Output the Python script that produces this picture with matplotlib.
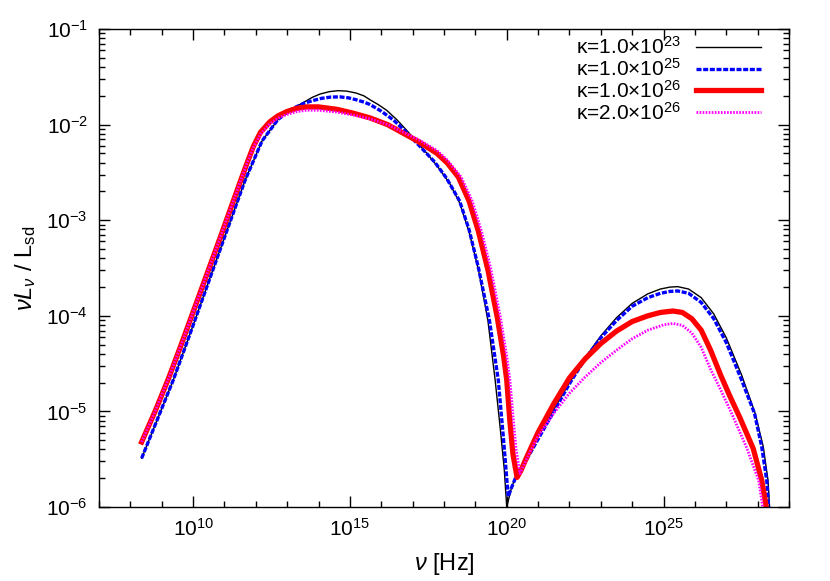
import numpy as np
import matplotlib
matplotlib.use("Agg")
import matplotlib.pyplot as plt
from matplotlib.ticker import FixedLocator, FuncFormatter, LogLocator, NullFormatter

plt.rcParams['font.family'] = ['Liberation Sans', 'DejaVu Sans']
plt.rcParams['mathtext.fontset'] = 'custom'
plt.rcParams['mathtext.rm'] = 'Liberation Sans'
plt.rcParams['mathtext.it'] = 'Liberation Sans:italic'
plt.rcParams['axes.unicode_minus'] = False

# log10(nu) and log10(nu L_nu / L_sd)
k23_lognu = [8.36, 9.37, 10, 11, 11.66, 12.2, 12.7, 13.0, 13.19, 13.51, 13.8, 14.05, 14.35,
             14.63, 14.9, 15.2, 15.45, 15.64, 15.9, 16.17, 16.5, 16.81, 17.1, 17.45, 17.8,
             18.19, 18.5, 18.8, 19.1, 19.4, 19.63, 19.8, 19.92, 20.0, 20.15, 20.3, 20.65,
             21, 21.5, 22, 22.5, 23, 23.5, 24, 24.5, 24.9, 25.2, 25.45, 25.8, 26.2, 26.6,
             27.0, 27.49, 27.92, 28.18, 28.33, 28.38]
k23_logL = [-5.49, -4.67, -4.1, -3.18, -2.58, -2.17, -1.95, -1.87, -1.83, -1.77, -1.715,
            -1.68, -1.655, -1.645, -1.65, -1.67, -1.70, -1.74, -1.79, -1.85, -1.95, -2.06,
            -2.17, -2.3, -2.44, -2.62, -2.82, -3.12, -3.52, -4.05, -4.67, -5.2, -5.6, -6.0,
            -5.8, -5.67, -5.48, -5.27, -4.98, -4.7, -4.44, -4.21, -4.02, -3.87, -3.77,
            -3.72, -3.70, -3.695, -3.72, -3.81, -3.98, -4.23, -4.62, -5.02, -5.37, -5.72,
            -6.0]

k25_lognu = [8.36, 9.37, 10, 11, 11.66, 12.2, 12.7, 13.0, 13.19, 13.51, 13.8, 14.1, 14.4,
             14.68, 14.95, 15.2, 15.45, 15.64, 16.0, 16.38, 16.8, 17.24, 17.7, 18.08, 18.5,
             18.8, 19.1, 19.45, 19.73, 19.9, 20.0, 20.05, 20.15, 20.3, 20.64, 21, 21.5,
             22.02, 22.5, 23, 23.5, 24, 24.5, 24.9, 25.2, 25.45, 25.8, 26.2, 26.6, 27.0,
             27.45, 27.9, 28.13, 28.29, 28.35]
k25_logL = [-5.49, -4.67, -4.1, -3.18, -2.58, -2.17, -1.95, -1.87, -1.83, -1.78, -1.75,
            -1.725, -1.712, -1.71, -1.72, -1.74, -1.765, -1.79, -1.86, -1.95, -2.08, -2.23,
            -2.39, -2.56, -2.8, -3.1, -3.5, -4.05, -4.67, -5.3, -5.7, -5.89, -5.8, -5.68,
            -5.5, -5.29, -5.0, -4.7, -4.45, -4.23, -4.05, -3.9, -3.81, -3.765, -3.745,
            -3.74, -3.765, -3.86, -4.03, -4.28, -4.64, -5.02, -5.37, -5.72, -6.0]

k26_lognu = [8.36, 8.8, 9.21, 9.6, 10, 10.8, 11.5, 11.7, 11.92, 12.15, 12.45, 12.7, 12.98,
             13.3, 13.62, 14.0, 14.58, 15.1, 15.64, 16.2, 16.7, 17.2, 17.77, 18.1, 18.46,
             18.8, 19.1, 19.4, 19.7, 19.9, 20.0, 20.1, 20.2, 20.33, 20.45, 20.65, 21.0,
             21.5, 22.0, 22.5, 23, 23.5, 24, 24.5, 24.9, 25.3, 25.6, 25.9, 26.2, 26.5,
             26.82, 27.1, 27.44, 27.86, 28.13, 28.24, 28.27]
k26_logL = [-5.32, -4.99, -4.66, -4.32, -3.96, -3.24, -2.6, -2.42, -2.23, -2.08, -1.97,
            -1.91, -1.865, -1.83, -1.815, -1.815, -1.84, -1.88, -1.93, -2.0, -2.09, -2.18,
            -2.3, -2.4, -2.55, -2.8, -3.12, -3.52, -4.02, -4.42, -4.67, -5.1, -5.45, -5.69,
            -5.62, -5.47, -5.22, -4.92, -4.65, -4.45, -4.29, -4.16, -4.06, -4.0, -3.965,
            -3.95, -3.965, -4.03, -4.15, -4.36, -4.62, -4.83, -5.07, -5.39, -5.72, -5.93,
            -6.0]

k26b_lognu = [8.36, 8.8, 9.21, 9.6, 10, 10.8, 11.5, 11.7, 11.92, 12.15, 12.45, 12.7, 12.98,
              13.3, 13.62, 14.0, 14.58, 15.1, 15.64, 16.2, 16.7, 17.2, 17.77, 18.1, 18.55,
              18.9, 19.2, 19.5, 19.8, 20.0, 20.1, 20.2, 20.3, 20.42, 20.55, 20.7, 21, 21.5,
              22, 22.5, 23, 23.5, 24, 24.5, 25.0, 25.3, 25.6, 25.9, 26.2, 26.5, 26.8,
              27.17, 27.65, 28.03, 28.13, 28.16]
k26b_logL = [-5.32, -4.99, -4.66, -4.32, -3.96, -3.24, -2.6, -2.42, -2.24, -2.1, -1.99,
             -1.935, -1.895, -1.865, -1.85, -1.85, -1.87, -1.9, -1.94, -2.0, -2.08, -2.16,
             -2.27, -2.37, -2.55, -2.8, -3.12, -3.52, -4.02, -4.42, -4.67, -5.05, -5.4,
             -5.65, -5.56, -5.45, -5.26, -5.02, -4.81, -4.64, -4.49, -4.36, -4.24, -4.15,
             -4.095, -4.08, -4.1, -4.18, -4.33, -4.56, -4.76, -5.02, -5.38, -5.72, -5.93,
             -6.0]

labels = [r'κ=1.0×10$^{23}$', r'κ=1.0×10$^{25}$', r'κ=1.0×10$^{26}$', r'κ=2.0×10$^{26}$']

fig = plt.figure(figsize=(8.3, 5.81), dpi=100)
ax = fig.add_axes([99 / 830, 1 - 507 / 581, 690 / 830, 478 / 581])

ax.plot(10.0 ** np.array(k23_lognu), 10.0 ** np.array(k23_logL), color='black', lw=1.0,
        label=labels[0])
ax.plot(10.0 ** np.array(k25_lognu), 10.0 ** np.array(k25_logL), color='#0000ff', lw=2.4,
        ls=(0, (1.5, 0.5)), label=labels[1])
ax.plot(10.0 ** np.array(k26_lognu), 10.0 ** np.array(k26_logL), color='#ff0000', lw=3.8,
        label=labels[2])
ax.plot(10.0 ** np.array(k26b_lognu), 10.0 ** np.array(k26b_logL), color='#ff00ff', lw=2.0,
        ls=(0, (0.6, 0.5)), label=labels[3])

ax.set_xscale('log')
ax.set_yscale('log')
ax.set_xlim(1e7, 1e29)
ax.set_ylim(1e-6, 1e-1)

ax.xaxis.set_major_locator(FixedLocator([1e10, 1e15, 1e20, 1e25]))
ax.xaxis.set_minor_locator(FixedLocator([10.0 ** k for k in range(7, 30)]))
ax.xaxis.set_minor_formatter(NullFormatter())
ax.xaxis.set_major_formatter(FuncFormatter(lambda v, p: r'10$^{%d}$' % round(np.log10(v))))
ax.yaxis.set_major_locator(FixedLocator([10.0 ** k for k in range(-6, 0)]))
ax.yaxis.set_minor_locator(LogLocator(base=10, subs=np.arange(2, 10), numticks=20))
ax.yaxis.set_minor_formatter(NullFormatter())
ax.yaxis.set_major_formatter(FuncFormatter(lambda v, p: r'10$^{%d}$' % round(np.log10(v))))

ax.tick_params(which='both', direction='in', top=True, right=True, labelsize=15, width=1.0)
ax.tick_params(which='major', length=8, pad=8)
ax.tick_params(which='minor', length=4)
for s in ax.spines.values():
    s.set_linewidth(1.0)

ax.set_xlabel(r'$\nu$ [Hz]', fontsize=17, labelpad=8)
ax.set_ylabel(r'$\nu L_\nu$ / L$_{\rm sd}$', fontsize=17, labelpad=6)

leg = ax.legend(loc='upper right', frameon=False, fontsize=15, markerfirst=False,
                handlelength=3.1, handletextpad=0.75, labelspacing=0.0,
                borderaxespad=0.0, borderpad=0.0,
                bbox_to_anchor=(761 / 830, 1 - 36 / 581), bbox_transform=fig.transFigure)

fig.savefig('out.png', dpi=100)
